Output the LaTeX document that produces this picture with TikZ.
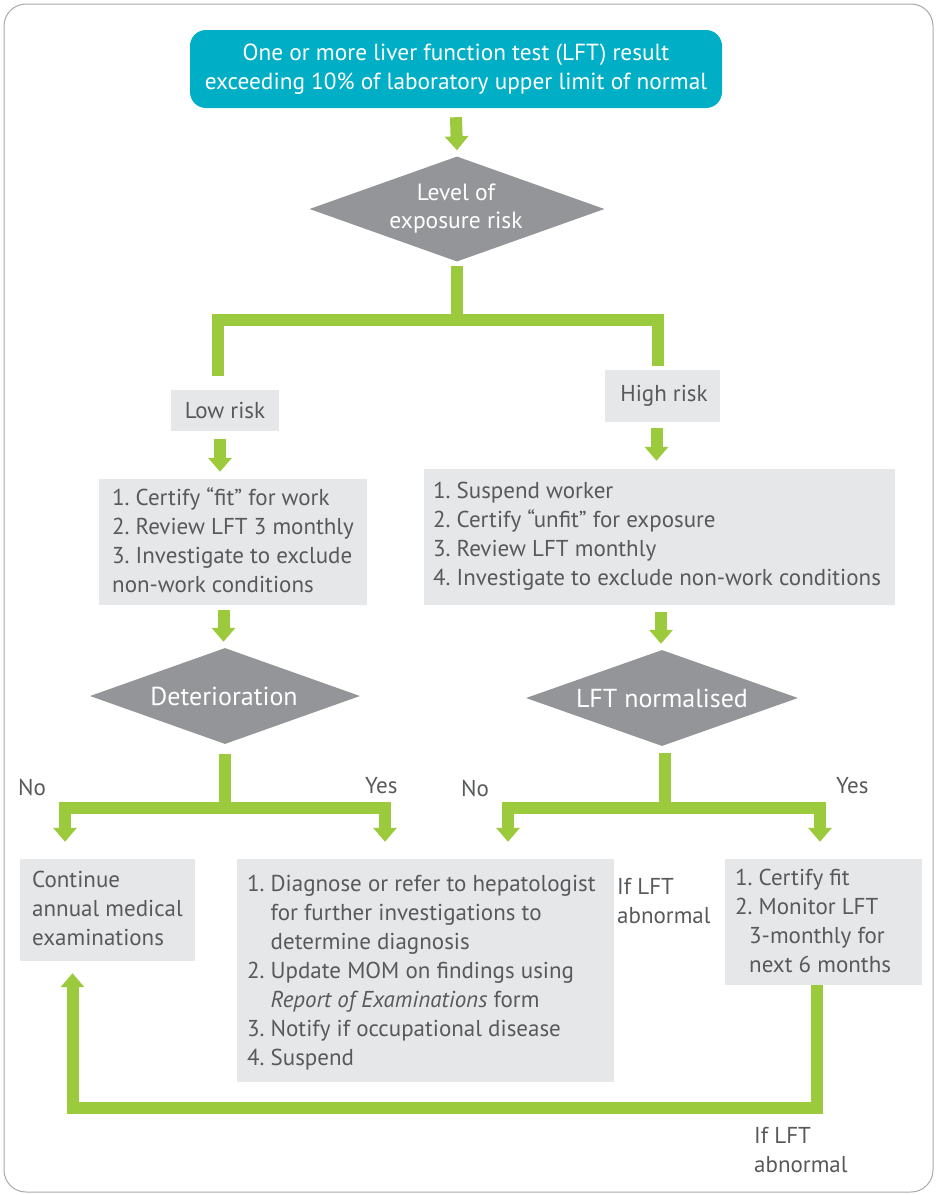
\documentclass[tikz,border=0pt]{standalone}
\usepackage{fontspec}
\setmainfont{PT Sans}
\usetikzlibrary{shapes.geometric,arrows.meta}
\definecolor{lgreen}{HTML}{9BCB3C}
\definecolor{teal}{HTML}{00AEC6}
\definecolor{dgray}{HTML}{939598}
\definecolor{boxfill}{HTML}{E6E7E8}
\definecolor{tgray}{HTML}{58595B}
\definecolor{frame}{HTML}{A7A9AC}
\newcommand\itm[1]{\makebox[23.5pt][l]{#1}}
\begin{document}
\begin{tikzpicture}[x=1pt,y=-1pt,
  flow/.style={draw=lgreen,line width=12pt,line join=miter},
  arr/.style={flow,-{Triangle[width=23pt,length=14pt]}},
  darr/.style={flow,{Triangle[width=23pt,length=14pt]}-{Triangle[width=23pt,length=14pt]}},
  gbox/.style={fill=boxfill,draw=none,inner sep=0pt},
  btxt/.style={font=\fontsize{23}{29}\selectfont,text=tgray,align=left,inner sep=0pt,anchor=north west},
  lbl/.style={font=\fontsize{23}{29}\selectfont,text=tgray,inner sep=0pt,anchor=base west},
  dia/.style={diamond,fill=dgray,draw=none,inner sep=0pt},
  diatxt/.style={text=white,align=center,inner sep=0pt},
]
\useasboundingbox (0,0) rectangle (937,1195);
\draw[frame,line width=1pt,rounded corners=22pt] (4,4) rectangle (933,1192);

% top box
\node[fill=teal,rounded corners=16pt,minimum width=532pt,minimum height=78pt,
  text=white,align=center,font=\fontsize{23.3}{29}\selectfont,inner sep=0pt] (top) at (456,69)
  {One or more liver function test (LFT) result\\exceeding 10\% of laboratory upper limit of normal};

% diamond 1
\node[dia,minimum width=295pt,minimum height=105pt] (risk) at (457,209) {};
\node[diatxt,font=\fontsize{23.5}{28}\selectfont] (risktxt) at (456,208.5) {Level of\\exposure risk};
\draw[arr] ([yshift=-9pt]top.south) -- ([yshift=6pt]risk.north);

% risk boxes
\node[gbox,minimum width=108pt,minimum height=41pt,font=\fontsize{23}{29}\selectfont,text=tgray] (low) at (225,410.5) {Low risk};
\node[gbox,minimum width=115pt,minimum height=52pt,font=\fontsize{23}{29}\selectfont,text=tgray] (high) at (662.5,396) {\hspace*{3pt}High risk};

\coordinate (lowin) at (217.5,376);
\coordinate (highin) at (657.5,366);
\coordinate (splitL) at (217.5,320);
\coordinate (splitR) at (657.5,320);
\coordinate (splitC) at (457,320);
\draw[flow] ([yshift=-4pt]risk.south) -- (splitC);
\draw[flow] (lowin) -- (splitL) -- (splitR) -- (highin);

% action boxes
\node[gbox,minimum width=268pt,minimum height=126pt] (lbox) at (233,542) {};
\node[btxt] (ltxt) at (112,487.5) {\itm{1.}Certify “fit” for work\\\itm{2.}Review LFT 3 monthly\\\itm{3.}Investigate to exclude\\non-work conditions};
\node[gbox,minimum width=471pt,minimum height=136pt] (rbox) at (659.5,537) {};
\node[btxt] (rtxt) at (433,481.5) {\itm{1.}Suspend worker\\\itm{2.}Certify “unfit” for exposure\\\itm{3.}Review LFT monthly\\\itm{4.}Investigate to exclude non-work conditions};

\draw[arr] ([xshift=-5pt,yshift=-8pt]low.south) -- ([xshift=-13pt,yshift=7pt]lbox.north);
\draw[arr] ([xshift=-6pt,yshift=-6pt]high.south) -- ([xshift=-3pt,yshift=8pt]rbox.north);

% diamonds 2
\node[dia,minimum width=270pt,minimum height=96pt] (det) at (225,696) {};
\node[diatxt,font=\fontsize{26}{29}\selectfont] (dettxt) at (224,696) {Deterioration};
\node[dia,minimum width=272pt,minimum height=96pt] (lftn) at (662,698) {};
\node[diatxt,font=\fontsize{26}{29}\selectfont] (lftntxt) at (662,698) {LFT normalised};

\draw[arr] ([xshift=-9.5pt,yshift=-5pt]lbox.south) -- ([xshift=-1.5pt,yshift=6pt]det.north);
\draw[arr] ([xshift=1.5pt,yshift=-7pt]rbox.south) -- ([xshift=-1pt,yshift=6pt]lftn.north);

% bottom boxes
\node[gbox,minimum width=175pt,minimum height=102pt] (cont) at (107.5,910) {};
\node[btxt] (conttxt) at (32,870.5) {Continue\\annual medical\\examinations};
\node[gbox,minimum width=377pt,minimum height=223pt] (diag) at (425.5,970.5) {};
\node[btxt] (diagtxt) at (247,874.5) {\itm{1.}Diagnose or refer to hepatologist\\\itm{}for further investigations to\\\itm{}determine diagnosis\\\itm{2.}Update MOM on findings using\\\itm{}\textit{Report of Examinations} form\\\itm{3.}Notify if occupational disease\\\itm{4.}Suspend};
\node[gbox,minimum width=197pt,minimum height=126pt] (cert) at (823.5,922) {};
\node[btxt] (certtxt) at (735,868.5) {\itm{1.}Certify fit\\\itm{2.}Monitor LFT\\\hspace*{14pt}3-monthly for\\\hspace*{14pt}next 6 months};

% deterioration split
\coordinate (detC) at (225,808);
\coordinate (detL) at (65,808);
\coordinate (detR) at (385,808);
\draw[flow] ([yshift=-10pt]det.south) -- (detC);
\draw[darr] ([yshift=17pt]cont.north -| detL) -- (detL) -- (detR) -- ([yshift=17pt]diag.north -| detR);

% lft normalised split
\coordinate (lftC) at (664.5,808);
\coordinate (lftL) at (508,808);
\coordinate (lftR) at (820,808);
\draw[flow] ([yshift=-7pt]lftn.south -| lftC) -- (lftC);
\draw[darr] ([yshift=17pt]diag.north -| lftL) -- (lftL) -- (lftR) -- ([yshift=17pt]cert.north -| lftR);

% loop back
\coordinate (loopR) at (817,1107.5);
\coordinate (loopL) at (72.5,1107.5);
\draw[arr] (cert.south -| loopR) -- (loopR) -- (loopL) -- ([yshift=-12pt]cont.south -| loopL);

% labels
\node[lbl] (no1) at (18,795) {No};
\node[lbl] (yes1) at (365,793) {Yes};
\node[lbl] (no2) at (461,796) {No};
\node[lbl] (yes2) at (836,793) {Yes};
\node[btxt] (iflft1) at (617,878.5) {If LFT\\abnormal};
\node[btxt] (iflft2) at (754,1127.5) {If LFT\\abnormal};
\end{tikzpicture}
\end{document}
